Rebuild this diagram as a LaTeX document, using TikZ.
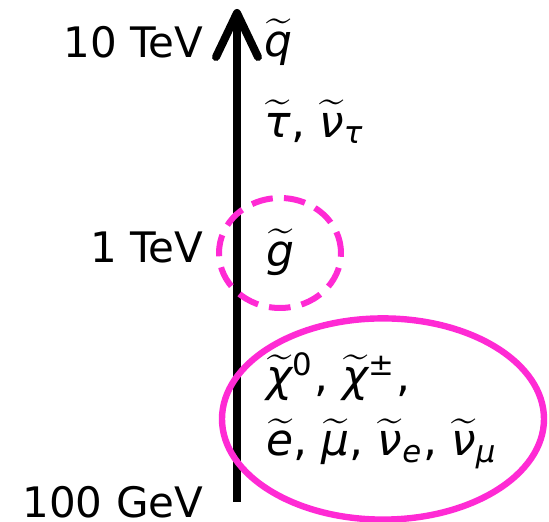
\documentclass[tikz,border=0pt]{standalone}
\usepackage{amsmath}
\usepackage{fontspec}
\setmainfont{DejaVu Sans}
\usetikzlibrary{arrows.meta, shapes.geometric, positioning}

\definecolor{ringPink}{RGB}{255,42,212}
% superpartner: slanted letter with a wide tilde
\newcommand{\spart}[1]{\ensuremath{\widetilde{\text{\itshape #1}}}}
\newcommand{\sub}[1]{\ensuremath{_{\text{\itshape #1}}}}

\begin{document}
\begin{tikzpicture}[x=0.25pt, y=-0.25pt]

% --- Styles ---
\tikzset{
    axisLine/.style={line width=2pt, -{Straight Barb[round, length=11pt, width=10.5pt]}},
    scaleLabel/.style={anchor=east, inner sep=0pt, font=\fontsize{10.5}{12}\selectfont},
    sparticle/.style={anchor=west, inner sep=0pt, font=\fontsize{11}{16}\selectfont},
    dashRing/.style={ellipse, draw=ringPink, line width=1.5pt, dash pattern=on 5.4pt off 2.8pt},
    lightRing/.style={ellipse, draw=ringPink, line width=1.6pt},
}

\useasboundingbox (0,0) rectangle (549,522);

% --- Energy axis ---
\coordinate (bottom) at (237,502);
\coordinate (top) at (237,9);
\draw[axisLine] (bottom) -- (top);

% --- Scale labels ---
\node[scaleLabel] (e10) at (204,42) {10 TeV};
\node[scaleLabel] (e1) at (204,247) {1 TeV};
\node[scaleLabel] (e01) at (204,502) {100 GeV};

% --- Superpartners ---
\node[sparticle] (squark) at (264,42) {\spart{q}};
\node[sparticle] (stau) at (264,122) {\spart{τ}, \spart{ν}\sub{τ}};
\node[sparticle] (gluino) at (266,252) {\spart{g}};
\node[sparticle, align=left] (light) at (266,411) {\spart{χ}$^{\text{0}}$, \spart{χ}$^{\text{±}}$,\\
    \spart{e}, \spart{μ}, \spart{ν}\sub{e}, \spart{ν}\sub{μ}};

% --- Rings ---
\node[dashRing, minimum width=30.5pt, minimum height=27.5pt] (gring) at (280,253) {};
\node[lightRing, minimum width=80.5pt, minimum height=50.3pt] (lring) at (383,419) {};

\end{tikzpicture}
\end{document}
